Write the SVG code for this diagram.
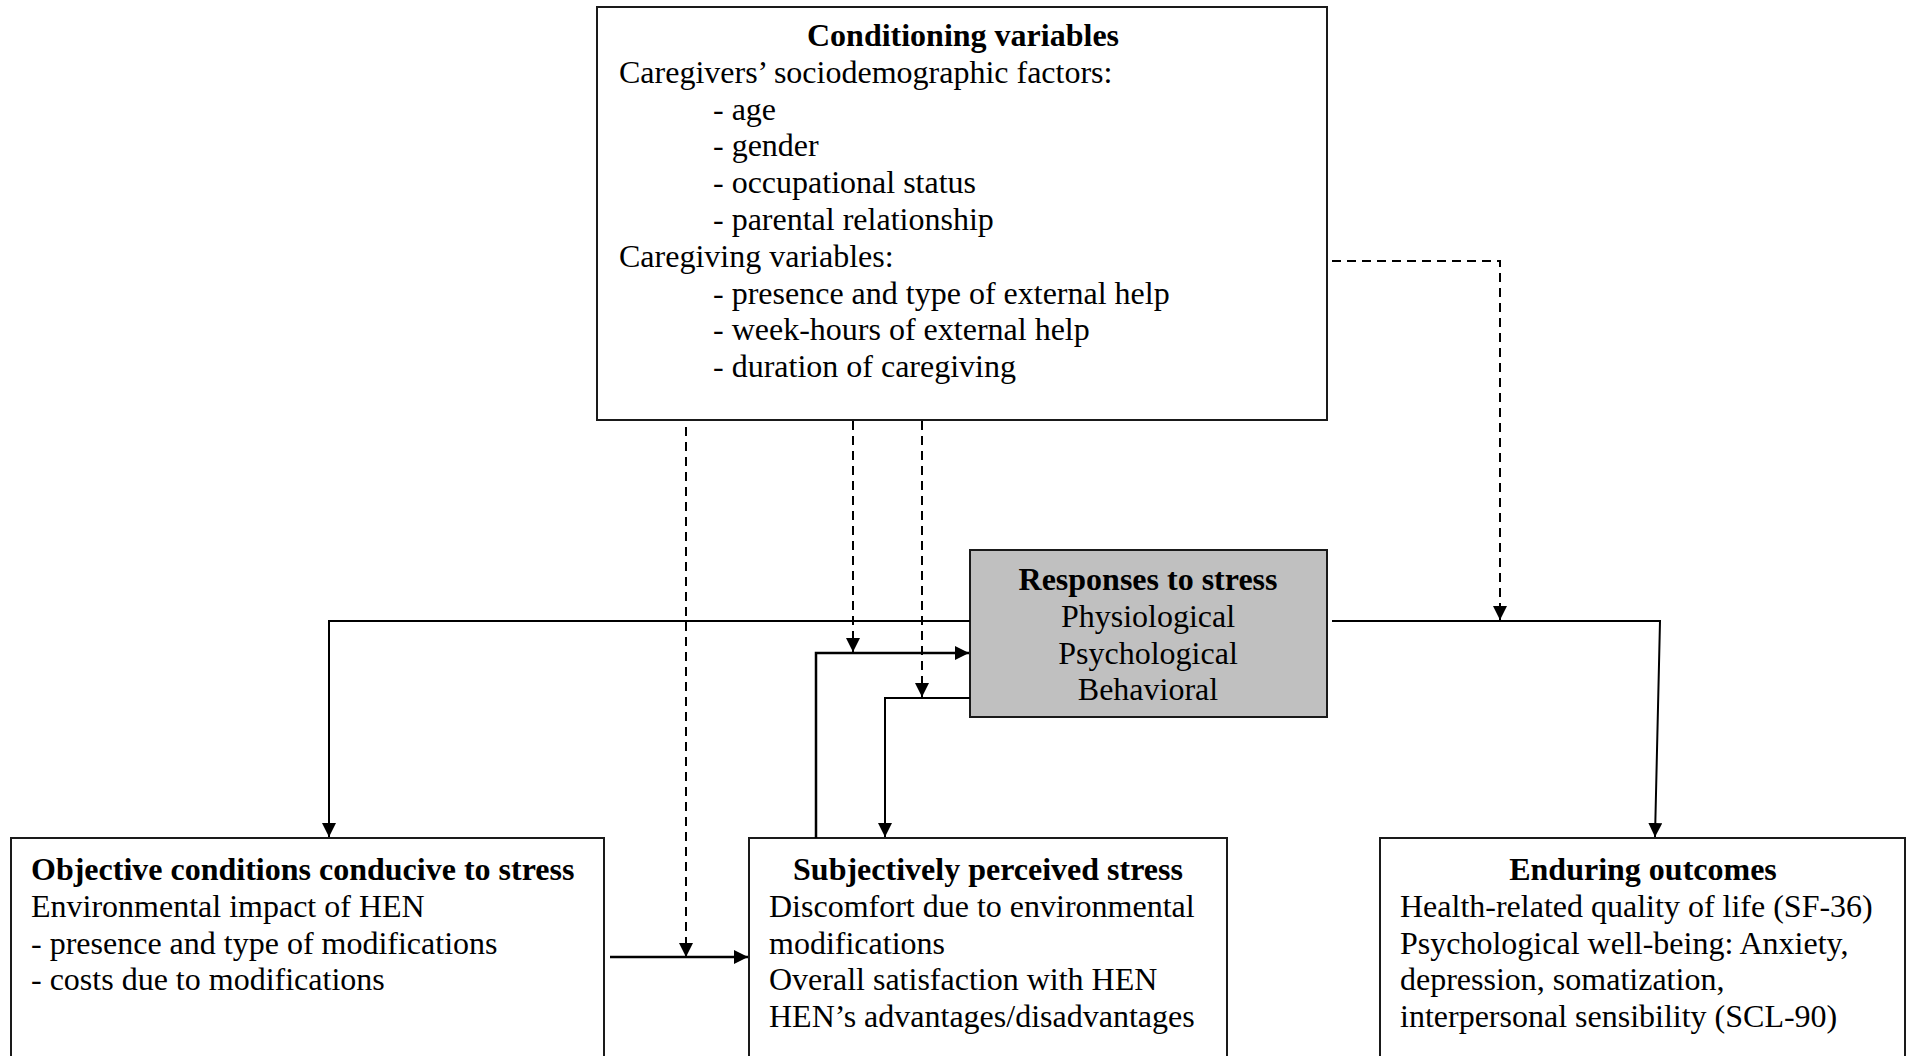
<svg xmlns="http://www.w3.org/2000/svg" width="1907" height="1056" viewBox="0 0 1907 1056">
<style>
.box{fill:#fff;stroke:#1a1a1a;stroke-width:2}
.gray{fill:#c0c0c0;stroke:#1a1a1a;stroke-width:2}
text{font-family:"Liberation Serif","Times New Roman",serif;font-size:32px;fill:#000}
.b{font-weight:bold}
.c{text-anchor:middle}
.ln{fill:none;stroke:#000;stroke-width:2}
.dash{fill:none;stroke:#000;stroke-width:2;stroke-dasharray:9 6}
</style>
<defs>
<marker id="ah" viewBox="0 0 14 14" markerWidth="14" markerHeight="14" refX="14" refY="7" orient="auto" markerUnits="userSpaceOnUse">
<path d="M0,0 L14,7 L0,14 z" fill="#000"/>
</marker>
</defs>
<rect width="1907" height="1056" fill="#fff"/>
<g id="conditioning">
<rect class="box" x="597" y="7" width="730" height="413"/>
<text class="b c" x="963" y="46">Conditioning variables</text>
<text x="619" y="83">Caregivers’ sociodemographic factors:</text>
<text x="713" y="120">- age</text>
<text x="713" y="156">- gender</text>
<text x="713" y="193">- occupational status</text>
<text x="713" y="230">- parental relationship</text>
<text x="619" y="267">Caregiving variables:</text>
<text x="713" y="304">- presence and type of external help</text>
<text x="713" y="340">- week-hours of external help</text>
<text x="713" y="377">- duration of caregiving</text>
</g>
<g id="responses">
<rect class="gray" x="970" y="550" width="357" height="167"/>
<text class="b c" x="1148" y="590">Responses to stress</text>
<text class="c" x="1148" y="627">Physiological</text>
<text class="c" x="1148" y="664">Psychological</text>
<text class="c" x="1148" y="700">Behavioral</text>
</g>
<g id="objective">
<rect class="box" x="11" y="838" width="593" height="222"/>
<text class="b" x="31" y="880">Objective conditions conducive to stress</text>
<text x="31" y="917">Environmental impact of HEN</text>
<text x="31" y="954">- presence and type of modifications</text>
<text x="31" y="990">- costs due to modifications</text>
</g>
<g id="subjective">
<rect class="box" x="749" y="838" width="478" height="222"/>
<text class="b c" x="988" y="880">Subjectively perceived stress</text>
<text x="769" y="917">Discomfort due to environmental</text>
<text x="769" y="954">modifications</text>
<text x="769" y="990">Overall satisfaction with HEN</text>
<text x="769" y="1027">HEN’s advantages/disadvantages</text>
</g>
<g id="enduring">
<rect class="box" x="1380" y="838" width="525" height="222"/>
<text class="b c" x="1643" y="880">Enduring outcomes</text>
<text x="1400" y="917">Health-related quality of life (SF-36)</text>
<text x="1400" y="954">Psychological well-being: Anxiety,</text>
<text x="1400" y="990">depression, somatization,</text>
<text x="1400" y="1027">interpersonal sensibility (SCL-90)</text>
</g>
<g id="connectors">
<path class="dash" d="M686,427 V957" marker-end="url(#ah)"/>
<path class="dash" d="M853,421 V652" marker-end="url(#ah)"/>
<path class="dash" d="M922,421 V697" marker-end="url(#ah)"/>
<path class="dash" d="M1332,261 H1500 V620" marker-end="url(#ah)"/>
<path class="ln" d="M970,621 H329 V837" marker-end="url(#ah)"/>
<path class="ln" d="M816,838 V653 H969" marker-end="url(#ah)" style="stroke-width:2.5"/>
<path class="ln" d="M970,698 H885 V837" marker-end="url(#ah)"/>
<path class="ln" d="M1332,621 H1660 L1655,837" marker-end="url(#ah)"/>
<path class="ln" d="M610,957 H748" marker-end="url(#ah)" style="stroke-width:2.5"/>
</g>
</svg>
